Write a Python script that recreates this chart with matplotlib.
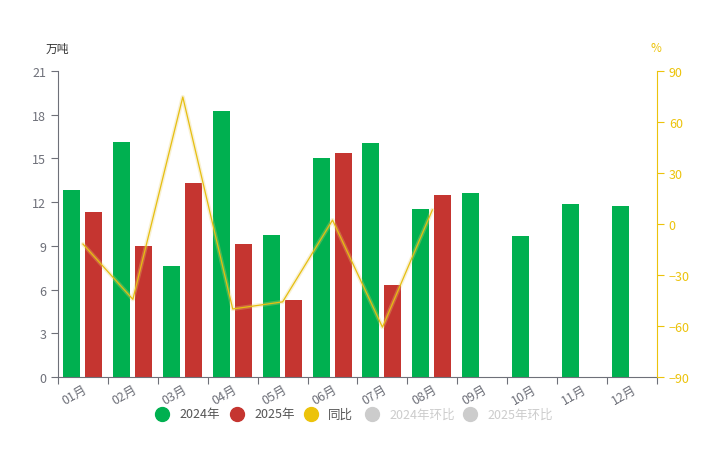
import matplotlib
matplotlib.use("Agg")
import matplotlib.pyplot as plt
import numpy as np
from matplotlib.lines import Line2D

plt.rcParams['font.family'] = ['Noto Sans CJK SC', 'DejaVu Sans']

months = ["01月", "02月", "03月", "04月", "05月", "06月", "07月", "08月", "09月", "10月", "11月", "12月"]
v2024 = [12.83, 16.13, 7.62, 18.26, 9.75, 15.03, 16.06, 11.53, 12.63, 9.68, 11.87, 11.74]
v2025 = [11.32, 8.99, 13.31, 9.13, 5.28, 15.37, 6.31, 12.49]
yoy = [-11.8, -44.3, 74.7, -50.0, -45.8, 2.3, -60.7, 8.3]

green = "#00b050"
red = "#c53530"
yellow = "#ecc30b"
grey_axis = "#6e7079"
label_col = "#6e7079"

fig = plt.figure(figsize=(7.05, 4.56), dpi=100)
ax = fig.add_axes([58/705, 78/456, (657-58)/705, (378-72)/456])
ax2 = ax.twinx()

x = np.arange(len(months))
x25 = np.arange(len(v2025))
w = 0.34
ax.bar(x - 0.23, v2024, width=w, color=green, zorder=2)
ax.bar(x25 + 0.21, v2025, width=w, color=red, zorder=2)

ax.set_xlim(-0.5, 11.5)
ax.set_ylim(0, 21)
ax.set_yticks(np.arange(0, 22, 3))
ax.set_xticks(np.arange(-0.5, 12, 1))
ax.set_xticklabels([])
ax.set_xticks(x, minor=True)
ax.set_xticklabels(months, minor=True, rotation=30, ha='right', rotation_mode='anchor',
                   fontsize=9, color=label_col)
ax.tick_params(axis='x', which='minor', length=0, pad=4)
ax.tick_params(axis='x', which='major', length=5, color=grey_axis, direction='out')
ax.tick_params(axis='y', length=5, color=grey_axis, labelsize=9, labelcolor=label_col)

for s in ['top', 'right']:
    ax.spines[s].set_visible(False)
ax.spines['left'].set_color(grey_axis)
ax.spines['bottom'].set_color(grey_axis)

ax2.set_ylim(-90, 90)
ax2.set_yticks(np.arange(-90, 91, 30))
ax2.tick_params(axis='y', length=5, color=yellow, labelsize=9, labelcolor=yellow)
for s in ['top', 'left', 'bottom']:
    ax2.spines[s].set_visible(False)
ax2.spines['right'].set_color(yellow)

ax2.plot(x25, yoy, color="#e8d070", lw=3, alpha=0.3, zorder=3, solid_capstyle='round')
ax2.plot(x25, yoy, color="#e6bf10", lw=0.9, zorder=4)

fig.text(57/705, 1 - 49/456, "万吨", fontsize=8.5, color="#333333", ha='center', va='center')
fig.text(656/705, 1 - 49/456, "%", fontsize=8.5, color=yellow, ha='center', va='center')

# legend
items = [("2024年", green, "#555555"), ("2025年", red, "#555555"), ("同比", yellow, "#555555"),
         ("2024年环比", "#cccccc", "#cccccc"), ("2025年环比", "#cccccc", "#cccccc")]
xs = [162, 237, 311, 372, 470]
ly = 1 - 415/456
for (lab, c, tc), px in zip(items, xs):
    fig.add_artist(Line2D([px/705], [ly], marker='o', markersize=10, color=c,
                          transform=fig.transFigure, linestyle='none'))
    fig.text((px + 17)/705, ly, lab, fontsize=9, color=tc, ha='left', va='center')

fig.savefig("out.png", dpi=100)
